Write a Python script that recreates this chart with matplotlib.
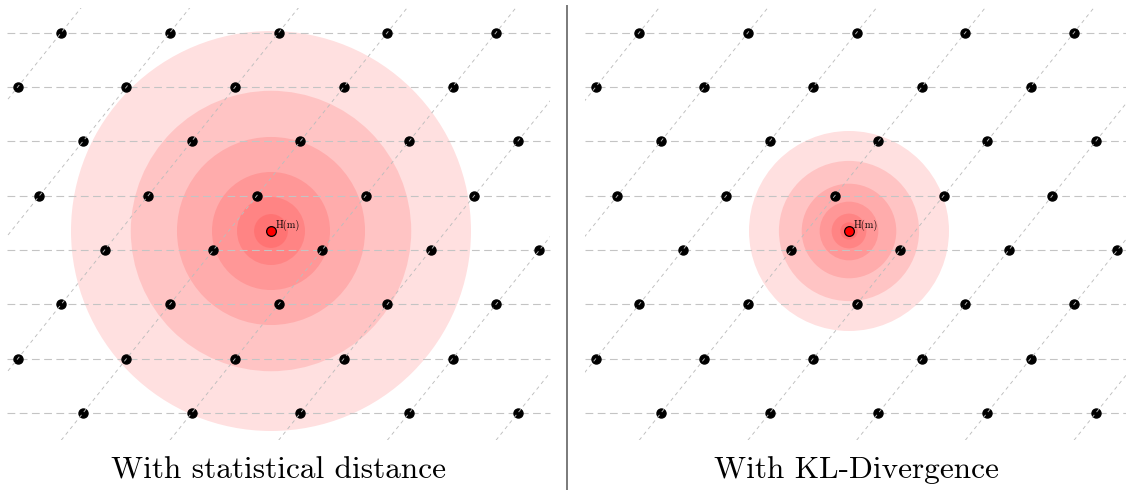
import matplotlib
matplotlib.use("Agg")
import matplotlib.pyplot as plt
import numpy as np
from matplotlib.patches import Circle, Rectangle
from matplotlib.lines import Line2D

# lattice (units of the horizontal lattice step), H(m) sits at (0, 0)
basis_a = [1.0, 0.0]
basis_b = [0.4, 0.5]
lattice_offset = [0.47, -0.175]
row_index = list(range(-3, 5))
col_index = list(range(-6, 7))

# concentric balls around H(m)
radii_stat = [1.84, 1.29, 0.865, 0.543, 0.313, 0.156]
radii_kl = [0.92, 0.645, 0.435, 0.27, 0.16, 0.08]

titles = ["With statistical distance", "With KL-Divergence"]
point_label = "H(m)"

plt.rcParams['axes.formatter.use_mathtext'] = True

W, H = 1126, 490
fig = plt.figure(figsize=(W / 100, H / 100), dpi=100)

px = 108.7  # pixels per lattice unit
box = (-2.43, -1.92, 5.0, 3.97)  # region where the grid lines are drawn


def draw_panel(ax, radii):
    ax.set_axis_off()
    for r in radii:
        ax.add_patch(Circle((0, 0), r, facecolor='red', alpha=0.12,
                            edgecolor='none', zorder=0))

    a = np.array(basis_a)
    b = np.array(basis_b)
    off = np.array(lattice_offset)
    x0, y0, bw, bh = box

    # horizontal dashed lines
    for j in row_index:
        y = off[1] + j * b[1]
        ax.plot([x0, x0 + bw], [y, y], color='#c4c4c4', lw=0.8,
                dashes=(7, 4), zorder=1)

    # diagonal dashed lines
    clip = Rectangle((x0, y0), bw, bh, transform=ax.transData)
    for i in range(-8, 9):
        p = off + i * a
        ts = np.array([-12, 12])
        pts = p[None, :] + ts[:, None] * b[None, :]
        ln, = ax.plot(pts[:, 0], pts[:, 1], color='#bdbdbd', lw=0.65,
                      dashes=(4, 4), zorder=3)
        ln.set_clip_path(clip)

    # lattice points
    xs, ys = [], []
    for j in row_index:
        for i in col_index:
            q = off + i * a + j * b
            if x0 - 0.02 <= q[0] <= x0 + bw and y0 <= q[1] <= y0 + bh:
                xs.append(q[0])
                ys.append(q[1])
    ax.plot(xs, ys, 'o', color='black', ms=6.5, zorder=2)

    ax.plot([0], [0], 'o', markerfacecolor='red', markeredgecolor='black',
            ms=7, mew=0.9, zorder=4)
    ax.text(0.04, 0.025, point_label, family='cmr10', fontsize=7.5,
            ha='left', va='baseline', zorder=5)


ax_h = 445 / H
left = fig.add_axes([0, 1 - ax_h, 563 / W, ax_h])
left.set_xlim(-271 / px, 292 / px)
left.set_ylim(-214 / px, 231 / px)
draw_panel(left, radii_stat)

right = fig.add_axes([578 / W, 1 - ax_h, 548 / W, ax_h])
right.set_xlim(-271 / px, 277 / px)
right.set_ylim(-214 / px, 231 / px)
draw_panel(right, radii_kl)

fig.text(278.5 / W, 12 / H, titles[0], family='cmr10', fontsize=22.5,
         ha='center', va='baseline')
fig.text(856 / W, 12 / H, titles[1], family='cmr10', fontsize=22.5,
         ha='center', va='baseline')

fig.add_artist(Line2D([567 / W, 567 / W], [0, 1 - 6 / H], color='#7a7a7a',
                      lw=1.4))

fig.savefig('out.png', dpi=100)
